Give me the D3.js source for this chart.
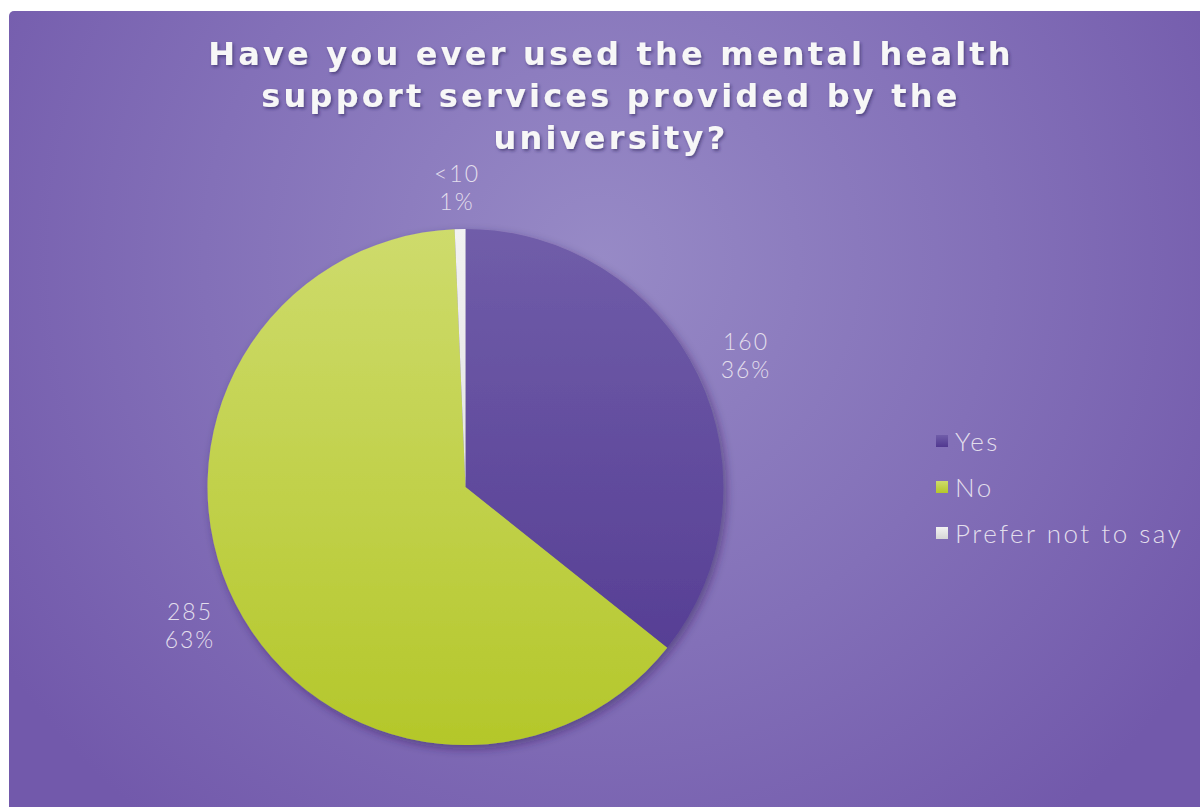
<!DOCTYPE html>
<html>
<head>
<meta charset="utf-8">
<script src="https://cdn.jsdelivr.net/npm/d3@7"></script>
<style>
  html, body { margin: 0; padding: 0; background: #ffffff; }
  svg { display: block; }
</style>
</head>
<body>
<svg id="chart" width="1200" height="807"></svg>
<script>
// Survey answers
const categories = ["Yes", "No", "Prefer not to say"];
const counts = [160, 285, 3];
const countLabels = ["160", "285", "<10"];
const percentLabels = ["36%", "63%", "1%"];
const titleLines = [
  "Have you ever used the mental health",
  "support services provided by the",
  "university?"
];

const W = 1200, H = 807;
const svg = d3.select("#chart");
const defs = svg.append("defs");

// Background panel gradient
const bg = defs.append("radialGradient").attr("id", "bg")
  .attr("gradientUnits", "userSpaceOnUse")
  .attr("cx", 600).attr("cy", 260).attr("r", 720);
bg.append("stop").attr("offset", "0").attr("stop-color", "#978ac6");
bg.append("stop").attr("offset", "0.55").attr("stop-color", "#8370b8");
bg.append("stop").attr("offset", "1").attr("stop-color", "#7259ab");

svg.append("rect")
  .attr("x", 9).attr("y", 11).attr("width", W - 9 + 10).attr("height", H - 11 + 10)
  .attr("rx", 5).attr("fill", "url(#bg)");

// Pie geometry
const cx = 465.5, cy = 487, R = 258;

const sliceColors = [
  ["#705da9", "#513890"],
  ["#cedb6c", "#b4c72a"],
  ["#f2f2f2", "#d6d6d6"]
];
// vertical shading across the whole pie, in the pie group's coordinates
sliceColors.forEach((c, i) => {
  const g = defs.append("linearGradient").attr("id", "slice" + i)
    .attr("gradientUnits", "userSpaceOnUse")
    .attr("x1", 0).attr("y1", -R).attr("x2", 0).attr("y2", R);
  g.append("stop").attr("offset", "0").attr("stop-color", c[0]);
  g.append("stop").attr("offset", "1").attr("stop-color", c[1]);
  const lg = defs.append("linearGradient").attr("id", "leg" + i)
    .attr("x1", 0).attr("y1", 0).attr("x2", 0).attr("y2", 1);
  lg.append("stop").attr("offset", "0").attr("stop-color", c[0]);
  lg.append("stop").attr("offset", "1").attr("stop-color", c[1]);
});

const shadow = defs.append("filter").attr("id", "pieShadow")
  .attr("x", "-20%").attr("y", "-20%").attr("width", "140%").attr("height", "140%");
shadow.append("feDropShadow").attr("dx", 3).attr("dy", 4)
  .attr("stdDeviation", 5).attr("flood-color", "#2a1850").attr("flood-opacity", 0.45);

const titleShadow = defs.append("filter").attr("id", "titleShadow")
  .attr("x", "-10%").attr("y", "-30%").attr("width", "120%").attr("height", "160%");
titleShadow.append("feDropShadow").attr("dx", 1.5).attr("dy", 2)
  .attr("stdDeviation", 1.5).attr("flood-color", "#2b1a55").attr("flood-opacity", 0.55);

const pie = d3.pie().sort(null).value(d => d)(counts);
const arc = d3.arc().innerRadius(0).outerRadius(R);

svg.append("g")
  .attr("transform", `translate(${cx},${cy})`)
  .attr("filter", "url(#pieShadow)")
  .selectAll("path").data(pie).join("path")
  .attr("d", arc)
  .attr("fill", (d, i) => `url(#slice${i})`);

// Data labels outside the slices: count on one line, share below
const labelFont = "Lato, 'Open Sans', sans-serif";
const labelPos = [
  [746, 350],
  [190, 620],
  [457, 182]
];
const labels = svg.append("g").attr("font-family", labelFont)
  .attr("font-weight", 300).attr("font-size", 23).attr("letter-spacing", 2)
  .attr("fill", "#e2deec").attr("text-anchor", "middle");
categories.forEach((c, i) => {
  labels.append("text").attr("x", labelPos[i][0]).attr("y", labelPos[i][1])
    .text(countLabels[i]);
  labels.append("text").attr("x", labelPos[i][0]).attr("y", labelPos[i][1] + 28)
    .text(percentLabels[i]);
});

// Legend
const legend = svg.append("g").attr("font-family", labelFont)
  .attr("font-weight", 300).attr("font-size", 26).attr("letter-spacing", 2.5)
  .attr("fill", "#e2deec");
categories.forEach((c, i) => {
  const y = 442 + i * 46;
  legend.append("rect").attr("x", 936).attr("y", y - 7).attr("width", 12).attr("height", 12)
    .attr("fill", `url(#leg${i})`);
  legend.append("text").attr("x", 955).attr("y", y + 9).text(c);
});

// Title
const title = svg.append("g").attr("filter", "url(#titleShadow)")
  .attr("font-family", "'DejaVu Sans', sans-serif").attr("font-weight", "bold")
  .attr("font-size", 32).attr("letter-spacing", 3.2).attr("fill", "#f7f7f7")
  .attr("text-anchor", "middle");
titleLines.forEach((line, i) => {
  title.append("text").attr("x", 611).attr("y", 65 + i * 42).text(line);
});
</script>
</body>
</html>
